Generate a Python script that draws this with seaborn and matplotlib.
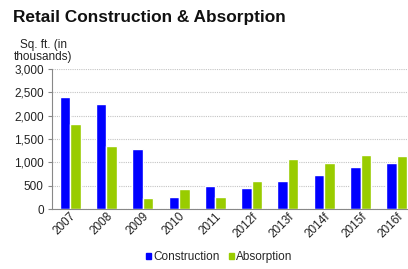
import numpy as np
import pandas as pd
import matplotlib
matplotlib.use('Agg')
import matplotlib.pyplot as plt
import matplotlib.patches as mpatches
from matplotlib.ticker import FuncFormatter, FixedLocator
import seaborn as sns

years        = ['2007', '2008', '2009', '2010', '2011', '2012f', '2013f', '2014f', '2015f', '2016f']
construction = [2390, 2260, 1290, 250, 500, 440, 600, 720, 900, 980]
absorption   = [1830, 1360, 230, 430, 260, 610, 1070, 990, 1150, 1130]

df = pd.DataFrame({
    'year'   : years * 2,
    'value'  : construction + absorption,
    'series' : ['Construction'] * len(years) + ['Absorption'] * len(years),
})

sns.set_style('white')
plt.rcParams['font.family'] = ['Liberation Sans', 'DejaVu Sans']

colors = {'Construction': '#0000FF', 'Absorption': '#99CC00'}

fig = plt.figure(figsize=(4.08, 2.69), dpi=100)
ax = fig.add_axes([52 / 408, 1 - 209 / 269, 363 / 408, 140 / 269])

sns.barplot(data=df, x='year', y='value', hue='series', palette=colors,
            width=0.58, saturation=1, ax=ax, legend=False)

ax.set_ylim(0, 3000)
ax.set_xlim(-0.5, len(years) - 0.5)
ax.set_yticks(np.arange(0, 3001, 500))
ax.yaxis.set_major_formatter(FuncFormatter(lambda v, p: f'{int(v):,}'))
ax.grid(axis='y', color='#c4c4c4', linestyle=(0, (1, 1)), linewidth=0.8)
ax.set_axisbelow(True)

# category ticks sit between groups
ax.xaxis.set_minor_locator(FixedLocator(np.arange(-0.5, len(years), 1)))
ax.tick_params(axis='x', which='major', length=0, labelsize=8.5, pad=1)
ax.tick_params(axis='x', which='minor', length=3, color='#888888', width=0.8)
ax.tick_params(axis='y', length=3, color='#888888', width=0.8, labelsize=8.5, pad=3,
               left=True, labelcolor='#222222')
plt.setp(ax.get_xticklabels(), rotation=45, ha='right', rotation_mode='anchor', color='#222222')

for s in ['top', 'right']:
    ax.spines[s].set_visible(False)
for s in ['left', 'bottom']:
    ax.spines[s].set_color('#888888')
    ax.spines[s].set_linewidth(0.8)
ax.set_xlabel('')
ax.set_ylabel('')

fig.text(13 / 408, 1 - 22 / 269, 'Retail Construction & Absorption',
         fontsize=12.4, fontweight='bold', color='#111111')
fig.text(43 / 408, 1 - 60 / 269, 'Sq. ft. (in\nthousands)', fontsize=8.5,
         ha='center', linespacing=1.0, color='#222222')

handles = [mpatches.Patch(color=colors[k], label=k) for k in ['Construction', 'Absorption']]
fig.legend(handles=handles, loc='center', bbox_to_anchor=(219 / 408, 1 - 257 / 269),
           ncol=2, frameon=False, fontsize=8.5, handlelength=0.45, handleheight=0.45,
           handletextpad=0.15, columnspacing=0.8, borderpad=0)

fig.savefig('out.png', dpi=100)
